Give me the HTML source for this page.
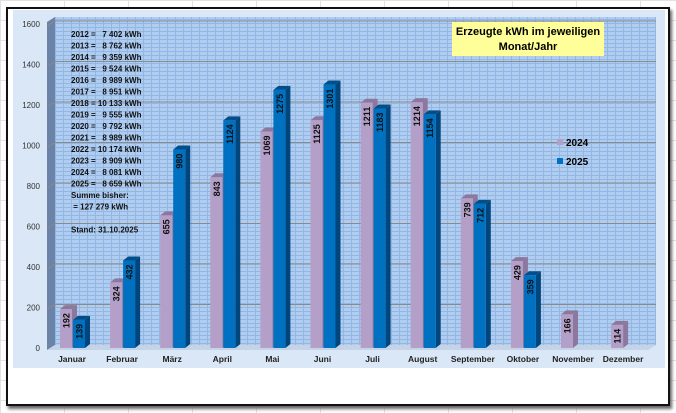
<!DOCTYPE html>
<html><head><meta charset="utf-8"><style>
body{margin:0;width:676px;height:413px;background:#fff;overflow:hidden;font-family:"Liberation Sans",sans-serif;
background-image:linear-gradient(#e2e2e2 1px,transparent 1px),linear-gradient(90deg,#e2e2e2 1px,transparent 1px);background-size:64px 20px;}
#frame{position:absolute;left:6px;top:7px;width:660px;height:395px;border:2px solid #111;background:#fff;box-shadow:2px 3px 3px #666;}
svg{position:absolute;left:0;top:0}
</style></head><body>
<div id="frame"></div>
<svg id="chart" width="676" height="413">
<defs>
<pattern id="brick" width="8" height="4" patternUnits="userSpaceOnUse">
<rect width="8" height="4" fill="#93b7e4"/><rect x="0" y="0" width="7" height="3" fill="#b0ccef"/>
</pattern>
</defs>
<rect x="13" y="10" width="652" height="358" fill="#d9e7f6"/>
<polygon points="47,22 55,17 55,345 47,350" fill="#6b83a6"/>
<rect x="55" y="17" width="601" height="328" fill="url(#brick)"/>
<polygon points="47,350 55,345 656,345 648,350" fill="#c5d3e6"/>
<g id="grid"></g><g id="bars"></g><g id="labels"></g>
<rect x="452" y="22" width="152" height="34" fill="#ffff99"/>
<text x="528" y="35" text-anchor="middle" font-size="11" font-weight="bold"><tspan x="528">Erzeugte kWh im jeweiligen</tspan><tspan x="528" dy="15">Monat/Jahr</tspan></text>
<rect x="557" y="139" width="6" height="6" fill="#b39fc7"/>
<text x="566" y="146" font-size="10" font-weight="bold">2024</text>
<rect x="557" y="158" width="6" height="6" fill="#0070c0"/>
<text x="566" y="165" font-size="10" font-weight="bold">2025</text>
<g font-size="8" font-weight="bold" fill="#111" id="note"></g>
</svg>
<script>
const months=["Januar","Februar","März","April","Mai","Juni","Juli","August","September","Oktober","November","Dezember"];
const v2024=[192,324,655,843,1069,1125,1211,1214,739,429,166,114];
const v2025=[139,432,980,1124,1275,1301,1183,1154,712,359,null,null];
const yTicks=[0,200,400,600,800,1000,1200,1400,1600];
const noteLines=["2012 =   7 402 kWh","2013 =   8 762 kWh","2014 =   9 359 kWh","2015 =   9 524 kWh","2016 =   8 989 kWh","2017 =   8 951 kWh","2018 = 10 133 kWh","2019 =   9 555 kWh","2020 =   9 792 kWh","2021 =   8 989 kWh","2022 = 10 174 kWh","2023 =   8 909 kWh","2024 =   8 081 kWh","2025 =   8 659 kWh","Summe bisher:"," = 127 279 kWh","","Stand: 31.10.2025"];
const NS="http://www.w3.org/2000/svg";
const y=v=>348-v*0.2025, xc=i=>72+i*50.1;
function mk(p,t,a){const e=document.createElementNS(NS,t);for(const k in a)e.setAttribute(k,a[k]);p.appendChild(e);return e;}
const g=document.getElementById('grid'),b=document.getElementById('bars'),L=document.getElementById('labels'),N=document.getElementById('note');
yTicks.forEach(t=>{const yy=y(t)-3;
 if(t>0){const l=mk(g,'polyline',{points:`47,${yy+5} 55,${yy} 656,${yy}`,fill:'none',stroke:'#8a8a8a','stroke-width':1});
 }
 const tx=mk(g,'text',{x:40,y:yy+6,'text-anchor':'end','font-size':8,fill:'#333'});tx.textContent=t;
 });
function bar(x,v,front,top,side,name){const w=12,d=5,t=y(v),bt=348;
 const s=mk(b,'polygon',{points:`${x+w},${t} ${x+w+d},${t-4} ${x+w+d},${bt-4} ${x+w},${bt}`,fill:side});
 
 const tp=mk(b,'polygon',{points:`${x},${t} ${x+d},${t-4} ${x+w+d},${t-4} ${x+w},${t}`,fill:top});
 
 const r=mk(b,'rect',{x:x,y:t,width:w,height:bt-t,fill:front});
 
 const tx=mk(L,'text',{x:0,y:0,transform:`translate(${x+w/2+3.5},${t+4}) rotate(-90)`,'text-anchor':'end','font-size':9,'font-weight':'bold',fill:'#111'});
 tx.textContent=v;}
months.forEach((m,i)=>{const c=xc(i);
 if(v2024[i]!=null)bar(c-12,v2024[i],'#b39fc7','#8c789f','#8c789f','bar-2024-'+i);
 if(v2025[i]!=null)bar(c+1,v2025[i],'#0070c0','#004f8a','#00467c','bar-2025-'+i);
 const t=mk(L,'text',{x:c,y:362,'text-anchor':'middle','font-size':8.5,'font-weight':'bold',fill:'#222'});t.textContent=m;
 });
noteLines.forEach((s,i)=>{const t=mk(N,'text',{x:71,y:37+i*11.5,'xml:space':'preserve'});t.textContent=s;t.style.whiteSpace='pre';
 });
</script>
</body></html>
